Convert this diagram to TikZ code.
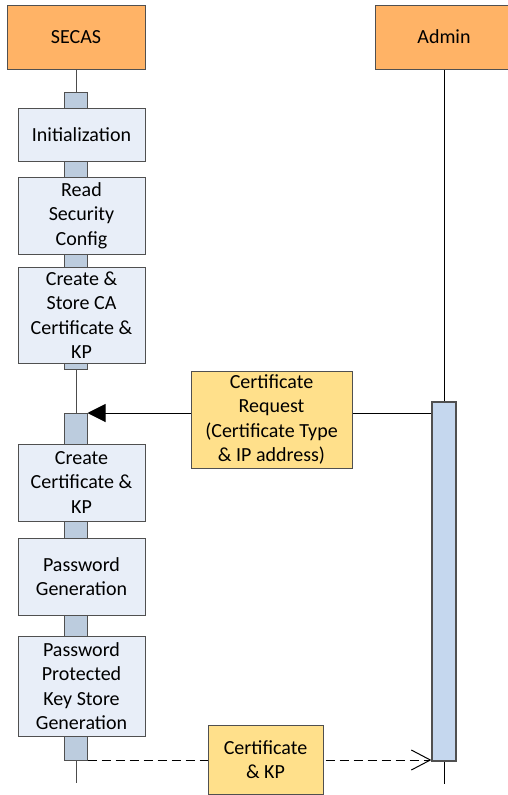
\documentclass[tikz,border=0pt]{standalone}
\usepackage{fontspec}
\setmainfont{Carlito}
\usetikzlibrary{arrows.meta}
\definecolor{orangebox}{HTML}{FFB366}
\definecolor{taskfill}{HTML}{E8EEF8}
\definecolor{barfill}{HTML}{BCCCDE}
\definecolor{adminbar}{HTML}{C5D7EE}
\definecolor{msgfill}{HTML}{FFE08B}
\definecolor{edge}{HTML}{505050}
\begin{document}
\begin{tikzpicture}[x=1pt,y=-1pt,
  every node/.style={font=\fontsize{20}{24.4}\selectfont, align=center, inner sep=0pt, text=black},
  actor/.style={draw=edge, fill=orangebox, line width=1pt, minimum width=138pt, minimum height=64pt},
  task/.style={draw=edge, fill=taskfill, line width=1pt, minimum width=127pt},
  actbar/.style={draw=edge, fill=barfill, line width=1pt, minimum width=23pt},
  abar/.style={draw=edge, fill=adminbar, line width=1.2pt, minimum width=24pt},
  msg/.style={draw=edge, fill=msgfill, line width=1pt},
  lifeline/.style={draw=black!70, line width=1pt},
]
\useasboundingbox (0,0) rectangle (508,795);
% actors
\node[actor] (secas) at (76,37) {SECAS};
\node[actor] (admin) at (444,37) {Admin};
% lifeline ends
\coordinate (secasend) at (76,783);
\coordinate (adminend) at (444,784);
\draw[lifeline] (secas.south) -- (secasend);
\draw[lifeline, draw=black] (admin.south) -- (adminend);
% activation bars
\node[actbar, minimum height=277pt] (bar1) at (75.5,230.5) {};
\node[actbar, minimum height=347pt] (bar2) at (75.5,586.5) {};
\node[abar, minimum height=359pt] (abar) at (444,581.5) {};
% task boxes
\node[task, minimum height=53pt] (init) at (81.5,134.5) {Initialization};
\node[task, minimum height=77pt] (read) at (81.5,215.5) {Read\\Security\\Config};
\node[task, minimum height=96pt] (ca) at (81.5,315) {Create \&\\Store CA\\Certificate \&\\KP};
\node[task, minimum height=77pt] (cert) at (81.5,482.5) {Create\\Certificate \&\\KP};
\node[task, minimum height=77pt] (pw) at (81.5,576.5) {Password\\Generation};
\node[task, minimum height=100pt] (ks) at (81.5,686) {Password\\Protected\\Key Store\\Generation};
% messages
\coordinate (reqfrom) at (abar.west |- 0,413);
\coordinate (reqto) at (bar2.east |- 0,413);
\draw[line width=1pt, -{Triangle[length=18pt,width=18pt]}] (reqfrom) -- (reqto);
\node[msg, minimum width=161pt, minimum height=97pt] (req) at (271.5,419.5) {Certificate\\Request\\(Certificate Type\\\& IP address)};
\coordinate (respfrom) at (bar2.east |- 0,760);
\coordinate (respto) at (abar.west |- 0,760);
\draw[line width=1pt, dash pattern=on 9pt off 5pt, -{Straight Barb[length=19pt,width=20pt]}] (respfrom) -- (respto);
\node[msg, minimum width=115pt, minimum height=69pt] (ckp) at (265.5,759.5) {Certificate\\\& KP};
\end{tikzpicture}
\end{document}
